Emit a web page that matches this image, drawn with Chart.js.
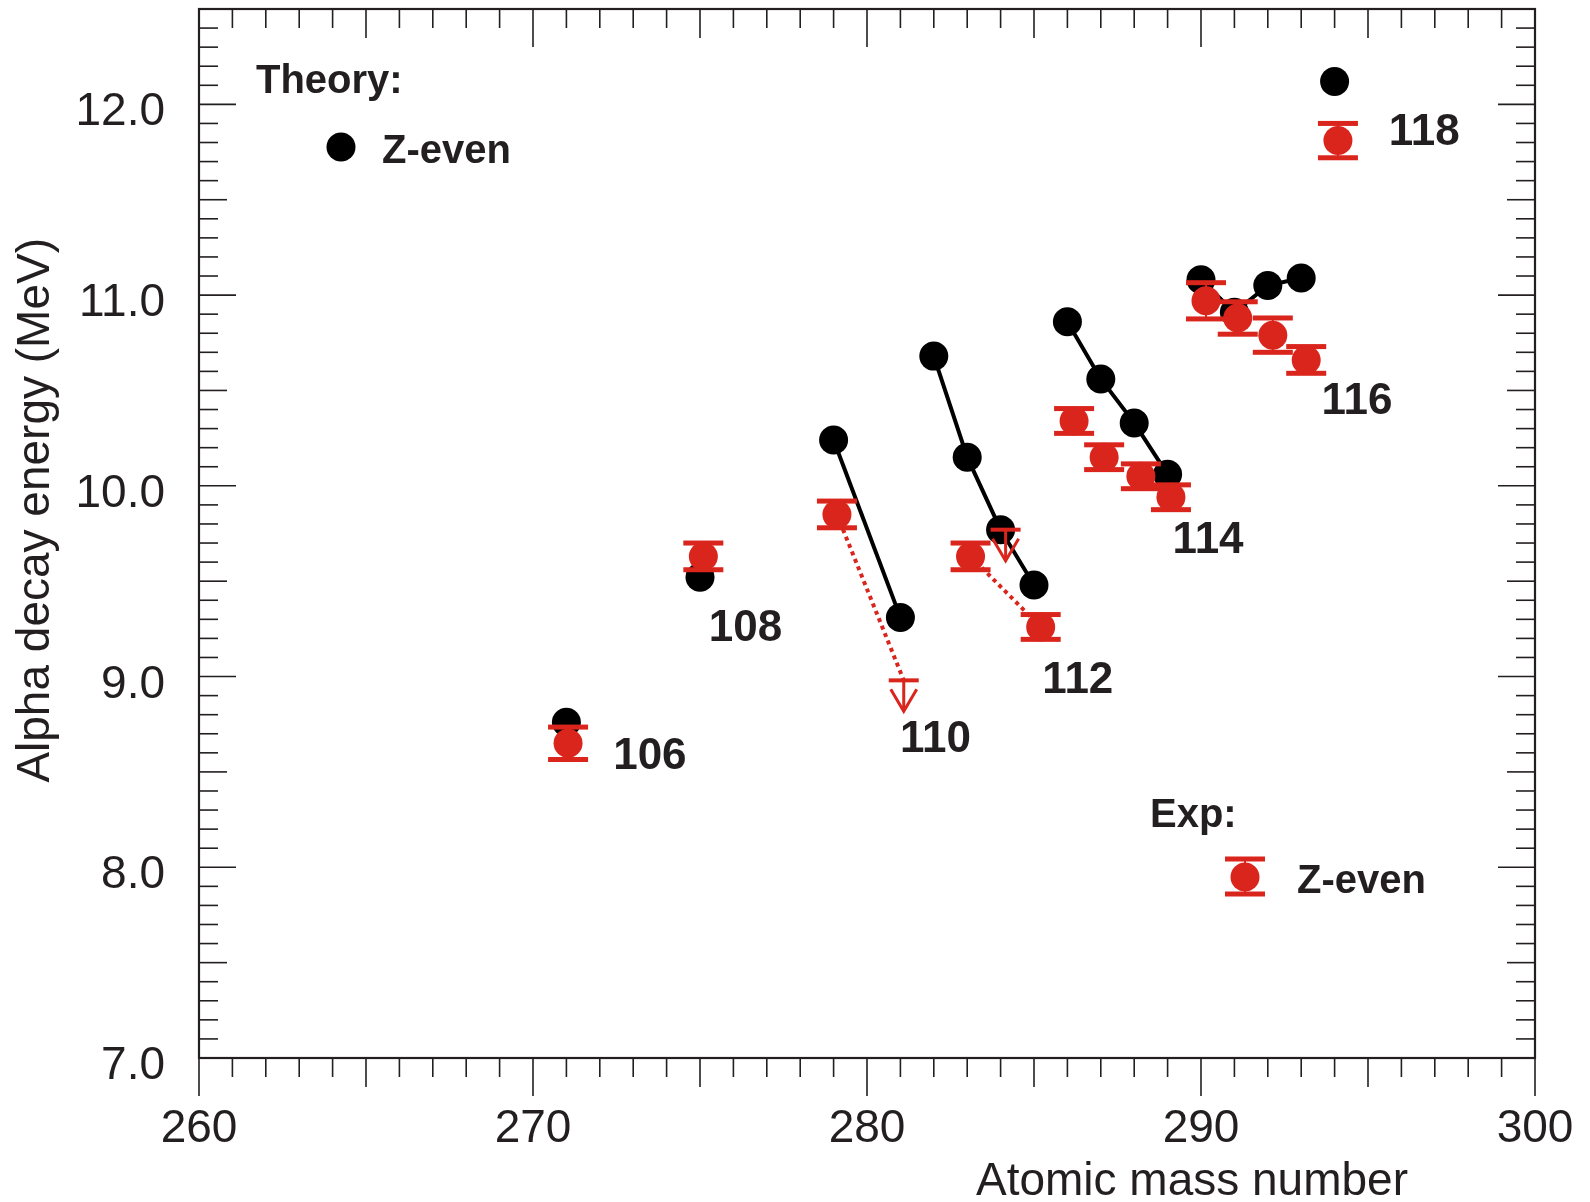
<!DOCTYPE html>
<html>
<head>
<meta charset="utf-8">
<script src="https://cdn.jsdelivr.net/npm/chart.js@4.4.1/dist/chart.umd.min.js"></script>
<style>
  html, body { margin: 0; padding: 0; background: #fff; }
  canvas { display: block; }
</style>
</head>
<body>
<canvas id="qalpha" width="1590" height="1202"></canvas>
<script>
// theory: alpha decay energies for the even-Z chains
const theoryMass = [271, 275, 279, 281, 282, 283, 284, 285, 286, 287, 288, 289, 290, 291, 292, 293, 294];
const theoryQ    = [8.76, 9.52, 10.24, 9.31, 10.68, 10.15, 9.77, 9.48, 10.86, 10.56, 10.33, 10.06, 11.08, 10.91, 11.05, 11.09, 12.12];
const theoryZ    = [106, 108, 110, 110, 112, 112, 112, 112, 114, 114, 114, 114, 116, 116, 116, 116, 118];

// measured values with their errors
const expMass = [271.05, 275.1, 279.1, 283.1, 285.2, 286.2, 287.1, 288.2, 289.1, 290.15, 291.1, 292.15, 293.15, 294.1];
const expQ    = [8.65, 9.63, 9.85, 9.63, 9.26, 10.34, 10.15, 10.05, 9.94, 10.97, 10.88, 10.79, 10.66, 11.81];
const expErr  = [0.085, 0.07, 0.07, 0.07, 0.065, 0.065, 0.065, 0.065, 0.065, 0.095, 0.085, 0.09, 0.07, 0.09];

// upper limits only
const limitMass = [281.1, 284.15];
const limitQ    = [8.98, 9.77];

const chainZ = [106, 108, 110, 112, 114, 116, 118];
const xTicks = [260, 270, 280, 290, 300];
const yTicks = [7.0, 8.0, 9.0, 10.0, 11.0, 12.0];

// where each Z number is written (mass, energy of the text centre-left)
const zLabelAt = [[272.4, 8.6], [275.26, 9.27], [280.99, 8.69], [285.25, 9.0], [289.15, 9.73], [293.61, 10.46], [295.62, 11.87]];

const ink = '#231f20';
const red = '#da251d';
const labelFont = '46px "Liberation Sans", Arial, sans-serif';

function line(ctx, x1, y1, x2, y2) {
    ctx.beginPath();
    ctx.moveTo(x1, y1);
    ctx.lineTo(x2, y2);
    ctx.stroke();
}

function errorBar(ctx, px, pyLo, pyHi) {
    ctx.strokeStyle = red;
    ctx.lineWidth = 2;
    line(ctx, px, pyLo, px, pyHi);
    ctx.fillStyle = red;
    ctx.fillRect(px - 20, pyLo - 2.5, 40, 5);
    ctx.fillRect(px - 20, pyHi - 2.5, 40, 5);
}

function limitArrow(ctx, px, py) {
    ctx.fillStyle = red;
    ctx.fillRect(px - 15, py - 2, 30, 4);
    ctx.strokeStyle = red;
    ctx.lineWidth = 3;
    line(ctx, px, py, px, py + 30);
    ctx.beginPath();
    ctx.moveTo(px - 13, py + 9);
    ctx.lineTo(px, py + 31);
    ctx.lineTo(px + 13, py + 9);
    ctx.stroke();
}

const framePlugin = {
    id: 'frame',
    beforeDatasetsDraw(chart) {
        const {ctx, chartArea: a, scales: {x, y}} = chart;
        ctx.save();
        ctx.strokeStyle = ink;
        ctx.lineWidth = 1.6;
        for (let m = 260; m <= 300; m++) {
            const px = x.getPixelForValue(m);
            const len = m % 10 === 0 ? 38 : (m % 5 === 0 ? 29 : 19);
            line(ctx, px, a.bottom, px, a.bottom + len);
            line(ctx, px, a.top, px, a.top + len);
        }
        for (let k = 70; k <= 125; k++) {
            const py = y.getPixelForValue(k / 10);
            const len = k % 10 === 0 ? 37 : (k % 5 === 0 ? 28 : 19);
            line(ctx, a.left, py, a.left + len, py);
            line(ctx, a.right, py, a.right - len, py);
        }
        ctx.lineWidth = 2.2;
        ctx.strokeRect(a.left, a.top, a.right - a.left, a.bottom - a.top);

        // tick labels
        ctx.fillStyle = ink;
        ctx.font = labelFont;
        ctx.textAlign = 'center';
        ctx.textBaseline = 'alphabetic';
        xTicks.forEach(v => ctx.fillText(String(v), x.getPixelForValue(v), a.bottom + 84));
        ctx.textAlign = 'right';
        yTicks.forEach(v => ctx.fillText(v.toFixed(1), a.left - 34, y.getPixelForValue(v) + 21));

        // axis titles
        ctx.font = '46px "Liberation Sans", Arial, sans-serif';
        ctx.textAlign = 'right';
        ctx.fillText('Atomic mass number', 1408, 1195);
        ctx.save();
        ctx.translate(49, 238);
        ctx.rotate(-Math.PI / 2);
        ctx.fillText('Alpha decay energy (MeV)', 0, 0);
        ctx.restore();
        ctx.restore();
    },
    beforeDatasetDraw(chart, args) {
        if (args.meta._dataset.label !== 'exp') return;
        const {ctx, scales: {x, y}} = chart;
        ctx.save();
        expMass.forEach((m, i) => {
            errorBar(ctx, x.getPixelForValue(m),
                y.getPixelForValue(expQ[i] - expErr[i]),
                y.getPixelForValue(expQ[i] + expErr[i]));
        });
        ctx.restore();
    },
    afterDatasetsDraw(chart) {
        const {ctx, scales: {x, y}} = chart;
        ctx.save();
        limitMass.forEach((m, i) => limitArrow(ctx, x.getPixelForValue(m), y.getPixelForValue(limitQ[i])));

        // Z numbers next to each chain
        ctx.fillStyle = ink;
        ctx.font = 'bold 44px "Liberation Sans", Arial, sans-serif';
        ctx.textAlign = 'left';
        ctx.textBaseline = 'alphabetic';
        chainZ.forEach((z, i) => {
            const [m, q] = zLabelAt[i];
            ctx.fillText(String(z), x.getPixelForValue(m), y.getPixelForValue(q) + 16);
        });

        // legend blocks
        ctx.font = 'bold 40px "Liberation Sans", Arial, sans-serif';
        ctx.fillText('Theory:', 256, 93);
        ctx.fillText('Z-even', 382, 163);
        ctx.fillText('Exp:', 1150, 827);
        ctx.fillText('Z-even', 1297, 893);

        ctx.fillStyle = '#000';
        ctx.beginPath();
        ctx.arc(341, 147, 14.5, 0, Math.PI * 2);
        ctx.fill();

        errorBar(ctx, 1245, 894, 859);
        ctx.fillStyle = red;
        ctx.beginPath();
        ctx.arc(1245, 877, 14.5, 0, Math.PI * 2);
        ctx.fill();
        ctx.restore();
    }
};

const pts = (xs, ys) => xs.map((v, i) => ({x: v, y: ys[i]}));

const datasets = [
    {
        label: 'exp',
        data: pts(expMass, expQ),
        backgroundColor: red,
        pointRadius: 14.5,
        pointBorderWidth: 0,
        showLine: false,
        order: 0
    },
    {
        label: 'limit110',
        data: [{x: expMass[2], y: expQ[2]}, {x: limitMass[0], y: limitQ[0]}],
        borderColor: red,
        borderWidth: 4,
        borderDash: [4, 4],
        pointRadius: 0,
        showLine: true,
        order: 1
    },
    {
        label: 'exp112',
        data: [{x: expMass[3], y: expQ[3]}, {x: expMass[4], y: expQ[4]}],
        borderColor: red,
        borderWidth: 4,
        borderDash: [4, 4],
        pointRadius: 0,
        showLine: true,
        order: 1
    },
    {
        label: 'theory',
        data: pts(theoryMass, theoryQ),
        backgroundColor: '#000',
        pointRadius: 14.5,
        pointBorderWidth: 0,
        showLine: false,
        order: 2
    }
];

// solid lines joining the calculated isotopes of one element
chainZ.forEach(z => {
    const idx = theoryZ.map((v, i) => v === z ? i : -1).filter(i => i >= 0);
    if (idx.length < 2) return;
    datasets.push({
        label: 'th' + z,
        data: idx.map(i => ({x: theoryMass[i], y: theoryQ[i]})),
        borderColor: '#000',
        borderWidth: 4,
        pointRadius: 0,
        showLine: true,
        order: 3
    });
});

new Chart(document.getElementById('qalpha'), {
    type: 'scatter',
    data: {datasets},
    options: {
        responsive: false,
        devicePixelRatio: 1,
        animation: false,
        layout: {autoPadding: false, padding: {left: 199, top: 9, right: 55, bottom: 144}},
        scales: {
            x: {type: 'linear', min: 260, max: 300, display: false},
            y: {type: 'linear', min: 7.0, max: 12.5, display: false}
        },
        plugins: {
            legend: {display: false},
            tooltip: {enabled: false}
        }
    },
    plugins: [framePlugin]
});
</script>
</body>
</html>
